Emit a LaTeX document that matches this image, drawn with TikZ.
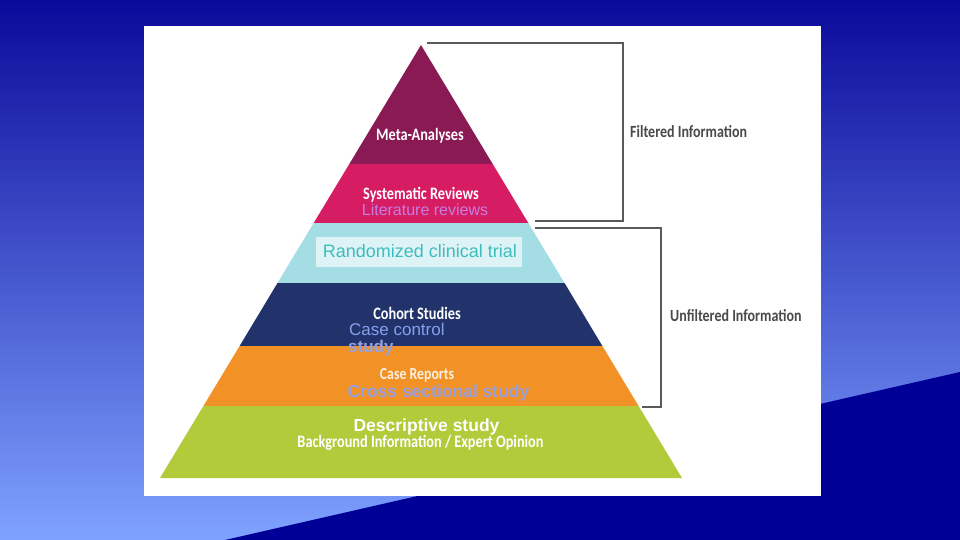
\documentclass[tikz,border=0pt]{standalone}
\usepackage{graphicx}
\usepackage{fontspec}
\setmainfont{Liberation Sans}
\newfontfamily\carlfont{Carlito}
\newcommand\talltxt[1]{\scalebox{1}[1.22]{#1}}
\begin{document}
\begin{tikzpicture}[x=1pt,y=-1pt,
  wlab/.style={text=white,font=\carlfont\bfseries\fontsize{14.3}{16}\selectfont,inner sep=0pt},
  glab/.style={text=labgray,font=\carlfont\bfseries\fontsize{14}{16}\selectfont,inner sep=0pt,anchor=west},
  brk/.style={draw=brkgray,line width=1.6pt},
]
\definecolor{bgtop}{HTML}{0A0A9A}
\definecolor{bgbot}{HTML}{7FA2FF}
\definecolor{bgdark}{HTML}{000096}
\definecolor{cmeta}{HTML}{8A1A53}
\definecolor{csys}{HTML}{D61C62}
\definecolor{crct}{HTML}{A4DDE3}
\definecolor{ccoh}{HTML}{22336B}
\definecolor{ccase}{HTML}{F29226}
\definecolor{cbg}{HTML}{B1CB3B}
\definecolor{rctbox}{HTML}{DEF3F5}
\definecolor{rcttxt}{HTML}{3DBDBE}
\definecolor{litcol}{HTML}{C57EE3}
\definecolor{cccol}{HTML}{86A0EE}
\definecolor{crosscol}{HTML}{97A0DE}
\definecolor{labgray}{HTML}{4A4A4A}
\definecolor{brkgray}{HTML}{5A5A5A}
\useasboundingbox (0,0) rectangle (960,540);
% background
\shade[top color=bgtop,bottom color=bgbot] (0,0) rectangle (960,540);
\fill[bgdark] (225,540) -- (960,372) -- (960,540) -- cycle;
% white panel
\fill[white] (144,26) rectangle (821,496);
% pyramid bands
\fill[cmeta] (421,45) -- (492.7,164) -- (349.3,164) -- cycle;
\fill[csys] (349.3,164) -- (492.7,164) -- (528.3,223) -- (313.7,223) -- cycle;
\fill[crct] (313.7,223) -- (528.3,223) -- (564.5,283) -- (277.5,283) -- cycle;
\fill[ccoh] (277.5,283) -- (564.5,283) -- (602.4,346) -- (239.6,346) -- cycle;
\fill[ccase] (239.6,346) -- (602.4,346) -- (638.6,406) -- (203.4,406) -- cycle;
\fill[cbg] (203.4,406) -- (638.6,406) -- (682,478) -- (160,478) -- cycle;
% RCT box
\fill[rctbox] (316,237) rectangle (522,267);
% labels
\node[wlab] (meta) at (420,136) {\talltxt{Meta-Analyses}};
\node[wlab] (sys) at (421,195) {\talltxt{Systematic Reviews}};
\node[text=litcol,font=\fontsize{16}{18}\selectfont,inner sep=0pt] (lit) at (425,209.5) {Literature reviews};
\node[text=rcttxt,font=\fontsize{18}{20}\selectfont,inner sep=0pt] (rct) at (420,251) {Randomized clinical trial};
\node[wlab] (coh) at (417,313) {\talltxt{Cohort Studies}};
\node[text=cccol,font=\fontsize{17}{19}\selectfont,inner sep=0pt,anchor=west] (cc) at (349,329) {Case control};
\node[text=crosscol,font=\bfseries\fontsize{17}{19}\selectfont,inner sep=0pt,anchor=west] (ccs) at (348,348) {study};
\node[text=white!85!ccase,font=\carlfont\bfseries\fontsize{13.8}{16}\selectfont,inner sep=0pt] (cr) at (417,375) {\talltxt{Case Reports}};
\node[text=crosscol,font=\bfseries\fontsize{17.5}{20}\selectfont,inner sep=0pt] (cross) at (438.5,392.5) {Cross sectional study};
\node[text=white,font=\bfseries\fontsize{17.5}{20}\selectfont,inner sep=0pt] (desc) at (426.5,426.5) {Descriptive study};
\node[wlab] (bg) at (420.5,443) {\talltxt{Background Information / Expert Opinion}};
\node[glab] (filt) at (630,132) {\talltxt{Filtered Information}};
\node[glab] (unfilt) at (670,316) {\talltxt{Unfiltered Information}};
% brackets
\coordinate (f1) at (427,43);
\coordinate (f2) at (623,43);
\coordinate (f3) at (623,221);
\coordinate (f4) at (535,221);
\coordinate (u1) at (535,228);
\coordinate (u2) at (661,228);
\coordinate (u3) at (661,407);
\coordinate (u4) at (642,407);
\draw[brk] (f1) -- (f2) -- (f3) -- (f4);
\draw[brk] (u1) -- (u2) -- (u3) -- (u4);
\end{tikzpicture}
\end{document}
